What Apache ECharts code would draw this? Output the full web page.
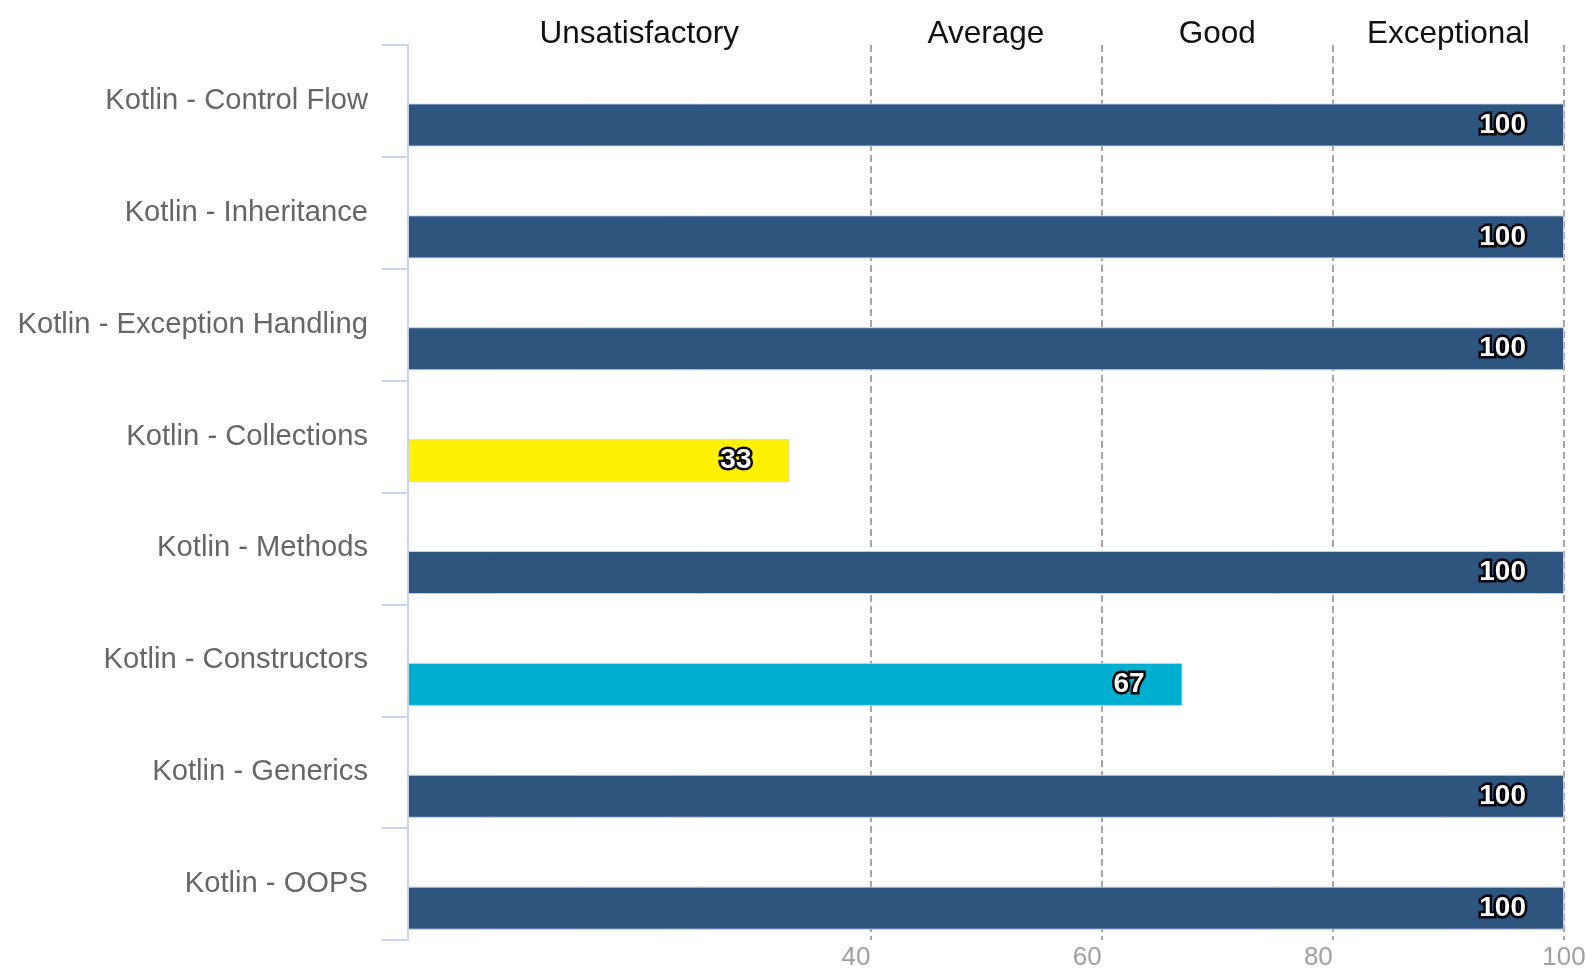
<!DOCTYPE html>
<html>
<head>
<meta charset="utf-8">
<script src="https://cdn.jsdelivr.net/npm/echarts@6/dist/echarts.min.js"></script>
<style>
html,body{margin:0;padding:0;background:#fff;}
#chart{width:1586px;height:971px;}
</style>
</head>
<body>
<div id="chart"></div>
<script>
const categories = [
  'Kotlin - Control Flow',
  'Kotlin - Inheritance',
  'Kotlin - Exception Handling',
  'Kotlin - Collections',
  'Kotlin - Methods',
  'Kotlin - Constructors',
  'Kotlin - Generics',
  'Kotlin - OOPS'
];
const scores = [100, 100, 100, 33, 100, 67, 100, 100];
const zoneNames = ['Unsatisfactory', 'Average', 'Good', 'Exceptional'];
const zoneEdges = [0, 40, 60, 80, 100];
const xTickValues = [40, 60, 80, 100];

function barColor(v) {
  if (v < 40) return '#FFF100';
  if (v < 60) return '#F7A21B';
  if (v < 80) return '#00AED0';
  return '#2E5480';
}

const chart = echarts.init(document.getElementById('chart'), null, {renderer: 'canvas'});

const areaData = zoneNames.map((n, i) => [
  {name: n, xAxis: zoneEdges[i]},
  {xAxis: zoneEdges[i + 1]}
]);

chart.setOption({
  animation: false,
  textStyle: {fontFamily: 'Liberation Sans, Arial, sans-serif'},
  grid: {left: 408, right: 22, top: 45, bottom: 31, containLabel: false, outerBoundsMode: 'none'},
  xAxis: {
    type: 'value',
    min: 0,
    max: 100,
    interval: 20,
    axisLine: {show: false},
    axisTick: {show: false},
    splitLine: {show: false},
    axisLabel: {
      customValues: xTickValues,
      formatter: v => (xTickValues.indexOf(v) >= 0 ? String(v) : ''),
      color: '#a0a0a0',
      fontSize: 26,
      align: 'right',
      alignMaxLabel: 'center',
      margin: 5
    }
  },
  yAxis: {
    type: 'category',
    inverse: true,
    data: categories,
    axisLine: {show: true, lineStyle: {color: '#c9d5ee', width: 2}},
    axisTick: {show: true, length: 26, lineStyle: {color: '#c9d5ee', width: 2}},
    axisLabel: {
      color: '#666666',
      fontSize: 29.2,
      margin: 40,
      padding: [0, 0, 5, 0]
    },
    splitLine: {show: false}
  },
  series: [
    {
      name: 'spacer',
      type: 'bar',
      barWidth: 43,
      barGap: '12%',
      data: categories.map(() => null),
      silent: true
    },
    {
      name: 'Score',
      type: 'bar',
      barWidth: 43,
      barGap: '12%',
      z: 3,
      data: scores.map(v => ({value: v, itemStyle: {color: barColor(v)}})),
      itemStyle: {borderColor: 'rgba(200,212,230,0.9)', borderWidth: 1},
      label: {
        show: true,
        position: 'insideRight',
        distance: 38,
        color: '#ffffff',
        fontSize: 28,
        fontWeight: 'bold',
        textBorderColor: '#000000',
        textBorderWidth: 5
      },
      markLine: {
        silent: true,
        z: 1,
        symbol: 'none',
        label: {show: false},
        lineStyle: {color: '#a6a6a6', type: [7, 4], width: 2},
        data: xTickValues.map(v => ({xAxis: v}))
      },
      markArea: {
        silent: true,
        itemStyle: {color: 'transparent'},
        label: {
          show: true,
          position: 'top',
          distance: -5,
          color: '#111111',
          fontSize: 31.5
        },
        data: areaData
      }
    }
  ]
});
</script>
</body>
</html>
